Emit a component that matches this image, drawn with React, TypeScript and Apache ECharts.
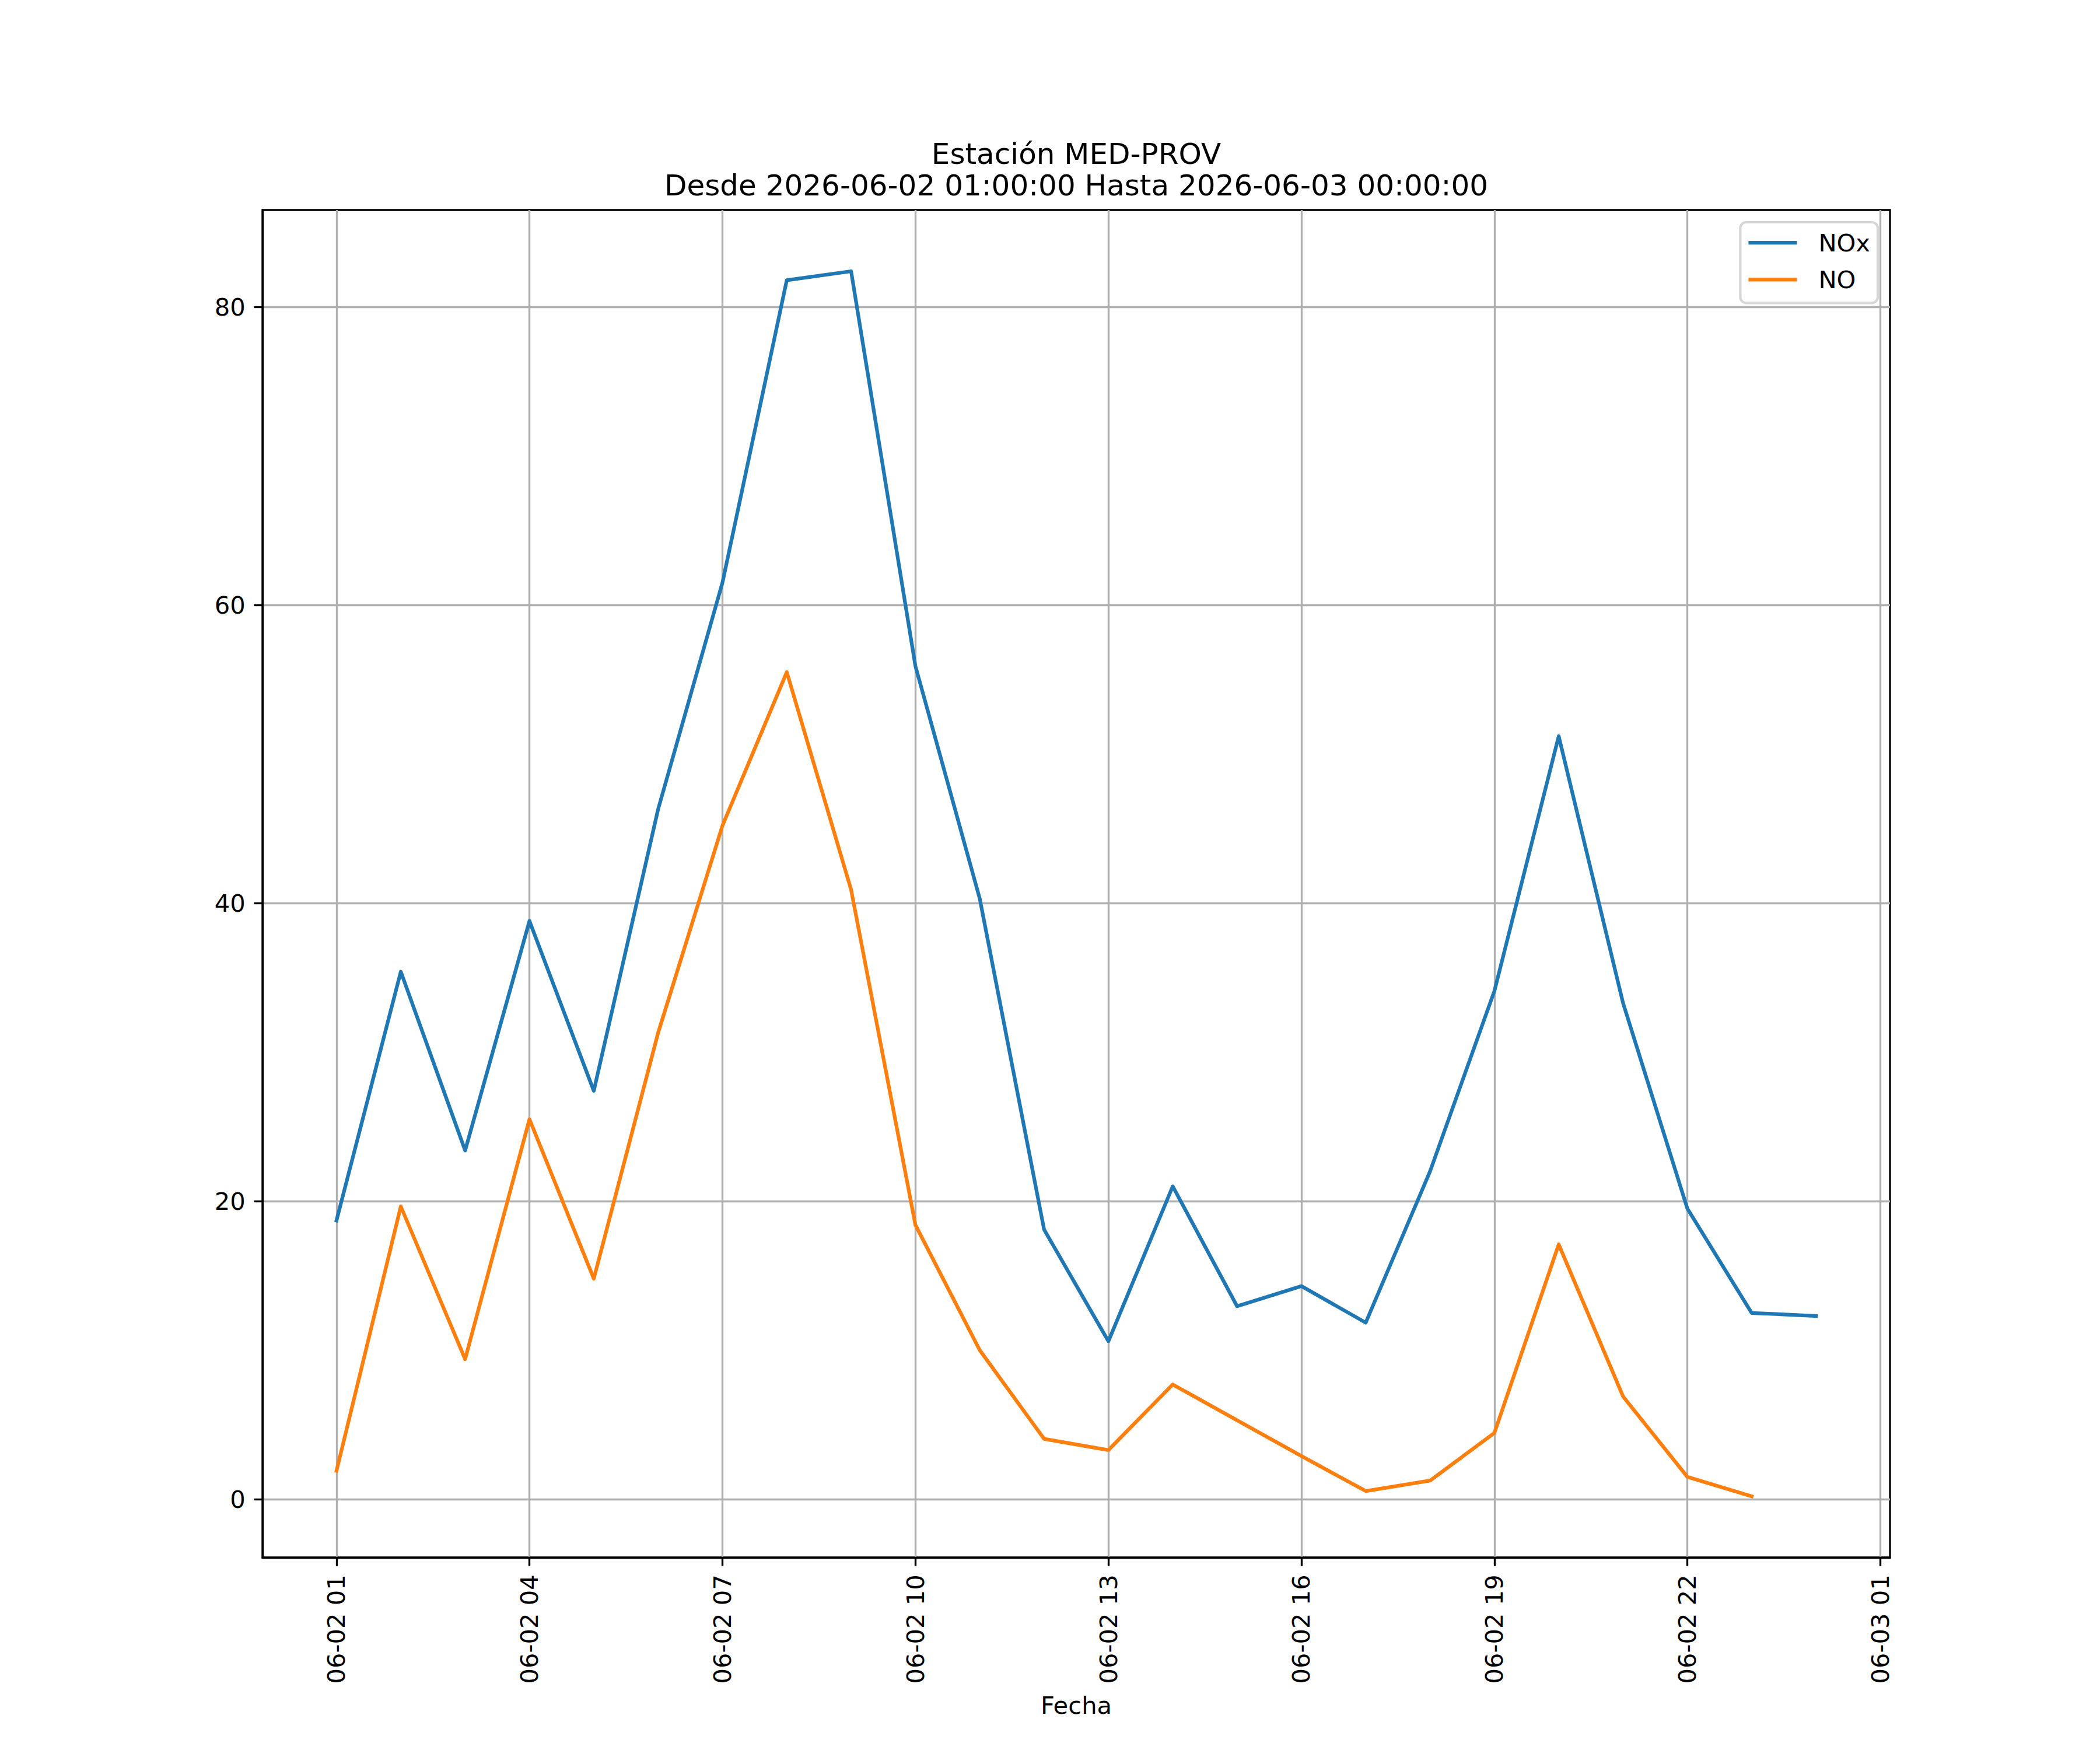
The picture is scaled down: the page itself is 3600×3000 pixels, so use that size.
import React, { useEffect, useRef } from "react";
import * as echarts from "echarts";

// Hours after 2026-06-02 00:00 (1 = 06-02 01:00 ... 24 = 06-03 00:00)
const hours = [1, 2, 3, 4, 5, 6, 7, 8, 9, 10, 11, 12, 13, 14, 15, 16, 17, 18, 19, 20, 21, 22, 23, 24];
const noxValues = [18.7, 35.4, 23.4, 38.8, 27.4, 46.3, 61.5, 81.8, 82.4, 55.9, 40.3, 18.1, 10.6, 21.0, 12.95, 14.3, 11.85, 22.0, 34.1, 51.2, 33.3, 19.5, 12.5, 12.3];
const noValues: (number | null)[] = [1.9, 19.65, 9.4, 25.5, 14.8, 31.3, 45.2, 55.5, 40.9, 18.4, 10.0, 4.05, 3.3, 7.7, 5.3, 2.9, 0.55, 1.25, 4.45, 17.1, 6.9, 1.5, 0.2, null];
const seriesNames = ["NOx", "NO"];
const seriesColors = ["#1f77b4", "#ff7f0e"];
const xTickHours = [1, 4, 7, 10, 13, 16, 19, 22, 25];
const xTickLabels = ["06-02 01", "06-02 04", "06-02 07", "06-02 10", "06-02 13", "06-02 16", "06-02 19", "06-02 22", "06-03 01"];
const yTickValues = [0, 20, 40, 60, 80];
const titleLines = ["Estación MED-PROV", "Desde 2026-06-02 01:00:00 Hasta 2026-06-03 00:00:00"];
const xAxisName = "Fecha";

const FONT = "'DejaVu Sans', sans-serif";
const F = 41.67;
const TF = 50;
const GRID_L = 450, GRID_R = 3240, GRID_T = 360, GRID_B = 2670;
const W = 3600, H = 3000;

export default function App() {
  const ref = useRef<HTMLDivElement>(null);
  useEffect(() => {
    const chart = echarts.init(ref.current!, null, { renderer: "svg" });
    const all = [...noxValues, ...noValues].filter((v) => v != null) as number[];
    const dmin = Math.min(...all);
    const dmax = Math.max(...all);
    const ym = (dmax - dmin) * 0.05;
    const xm = (hours[hours.length - 1] - hours[0]) * 0.05;
    const cx = (GRID_L + GRID_R) / 2;

    const axisCommon = {
      axisLine: { show: true, onZero: false, lineStyle: { color: "#000", width: 3.33 } },
      axisTick: { show: true, length: 14.6, lineStyle: { color: "#000", width: 3.33 } },
      splitLine: { show: true, lineStyle: { color: "#b0b0b0", width: 3.33 } },
    };

    chart.setOption({
      animation: false,
      backgroundColor: "#ffffff",
      grid: {
        left: GRID_L,
        right: W - GRID_R,
        top: GRID_T,
        bottom: H - GRID_B,
        show: true,
        borderColor: "#000",
        borderWidth: 3.33,
        backgroundColor: "transparent",
        containLabel: false,
      },
      graphic: [
        {
          type: "text",
          x: cx,
          y: 263.5,
          z: 100,
          style: {
            text: titleLines[0],
            fill: "#000",
            font: `${TF}px ${FONT}`,
            textAlign: "center",
            align: "center",
            textVerticalAlign: "middle",
            verticalAlign: "middle",
          },
        },
        {
          type: "text",
          x: cx,
          y: 317.7,
          z: 100,
          style: {
            text: titleLines[1],
            fill: "#000",
            font: `${TF}px ${FONT}`,
            textAlign: "center",
            align: "center",
            textVerticalAlign: "middle",
            verticalAlign: "middle",
          },
        },
      ],
      legend: {
        show: true,
        orient: "vertical",
        right: W - 3219,
        top: 381,
        data: seriesNames,
        icon: "rect",
        itemWidth: 83,
        itemHeight: 6.25,
        itemGap: 21.3,
        padding: [14, 13, 19, 14],
        borderColor: "#d6d6d6",
        borderWidth: 4.17,
        borderRadius: 10,
        backgroundColor: "rgba(255,255,255,0.8)",
        textStyle: {
          color: "#000",
          fontFamily: FONT,
          fontSize: F,
          lineHeight: 42,
          padding: [0, 0, 0, 32],
        },
      },
      xAxis: {
        type: "value",
        min: hours[0] - xm,
        max: hours[hours.length - 1] + xm,
        ...axisCommon,
        axisTick: { ...axisCommon.axisTick, customValues: xTickHours },
        axisLabel: {
          customValues: xTickHours,
          rotate: 90,
          margin: 29.2,
          color: "#000",
          fontFamily: FONT,
          fontSize: F,
          formatter: (v: number) => {
            const i = xTickHours.indexOf(Math.round(v));
            return i >= 0 ? xTickLabels[i] : "";
          },
        },
        name: xAxisName,
        nameLocation: "middle",
        nameGap: 232,
        nameTextStyle: { color: "#000", fontFamily: FONT, fontSize: F },
      },
      yAxis: {
        type: "value",
        min: dmin - ym,
        max: dmax + ym,
        ...axisCommon,
        axisTick: { ...axisCommon.axisTick, customValues: yTickValues },
        axisLabel: {
          customValues: yTickValues,
          margin: 29.2,
          color: "#000",
          fontFamily: FONT,
          fontSize: F,
          formatter: (v: number) => String(Math.round(v)),
        },
      },
      series: [
        {
          name: seriesNames[0],
          type: "line",
          data: hours.map((h, i) => [h, noxValues[i]]),
          showSymbol: false,
          symbol: "none",
          color: seriesColors[0],
          lineStyle: { color: seriesColors[0], width: 6.25, join: "round", cap: "square" },
          z: 3,
        },
        {
          name: seriesNames[1],
          type: "line",
          data: hours.map((h, i) => [h, noValues[i] == null ? "-" : noValues[i]]),
          showSymbol: false,
          symbol: "none",
          color: seriesColors[1],
          lineStyle: { color: seriesColors[1], width: 6.25, join: "round", cap: "square" },
          z: 4,
        },
      ],
    });
    return () => chart.dispose();
  }, []);
  return (
    <div
      ref={ref}
      style={{ position: "absolute", left: 0, top: 0, width: W, height: H }}
    />
  );
}
